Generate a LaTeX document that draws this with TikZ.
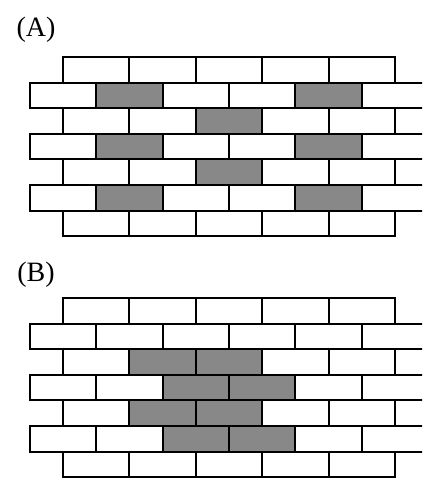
\documentclass[tikz,border=0pt]{standalone}
\usepackage{fontspec}
\setmainfont{Liberation Serif}
\definecolor{brickgray}{HTML}{888888}
\begin{document}
\begin{tikzpicture}[x=1pt,y=-1pt,
  brick/.style={draw=black,line width=2.1pt,fill=white,line join=miter},
  darkbrick/.style={brick,fill=brickgray},
  panellabel/.style={inner sep=0pt,font=\fontsize{28}{28}\selectfont}]
\useasboundingbox (0,0) rectangle (422,478);
\clip (0,0) rectangle (422,478);
\def\W{66.4}
\def\H{25.6}
\def\Xo{63}
\def\Xe{29.8}
% ---------- Panel A ----------
\node[panellabel] (labA) at (36,29.5) {(A)};
\def\T{57}
\foreach \r in {0,2,4,6} \foreach \c in {0,...,4}
  \draw[brick] ({\Xo+\c*\W},{\T+\r*\H}) rectangle ++(\W,\H);
\foreach \r in {1,3,5} \foreach \c in {0,...,5}
  \draw[brick] ({\Xe+\c*\W},{\T+\r*\H}) rectangle ++(\W,\H);
\foreach \r in {1,3,5} \foreach \c in {1,4}
  \draw[darkbrick] ({\Xe+\c*\W},{\T+\r*\H}) rectangle ++(\W,\H);
\foreach \r in {2,4}
  \draw[darkbrick] ({\Xo+2*\W},{\T+\r*\H}) rectangle ++(\W,\H);
% ---------- Panel B ----------
\node[panellabel] (labB) at (36,275) {(B)};
\def\T{298}
\foreach \r in {0,2,4,6} \foreach \c in {0,...,4}
  \draw[brick] ({\Xo+\c*\W},{\T+\r*\H}) rectangle ++(\W,\H);
\foreach \r in {1,3,5} \foreach \c in {0,...,5}
  \draw[brick] ({\Xe+\c*\W},{\T+\r*\H}) rectangle ++(\W,\H);
\foreach \r in {2,4} \foreach \c in {1,2}
  \draw[darkbrick] ({\Xo+\c*\W},{\T+\r*\H}) rectangle ++(\W,\H);
\foreach \r in {3,5} \foreach \c in {2,3}
  \draw[darkbrick] ({\Xe+\c*\W},{\T+\r*\H}) rectangle ++(\W,\H);
\end{tikzpicture}
\end{document}
